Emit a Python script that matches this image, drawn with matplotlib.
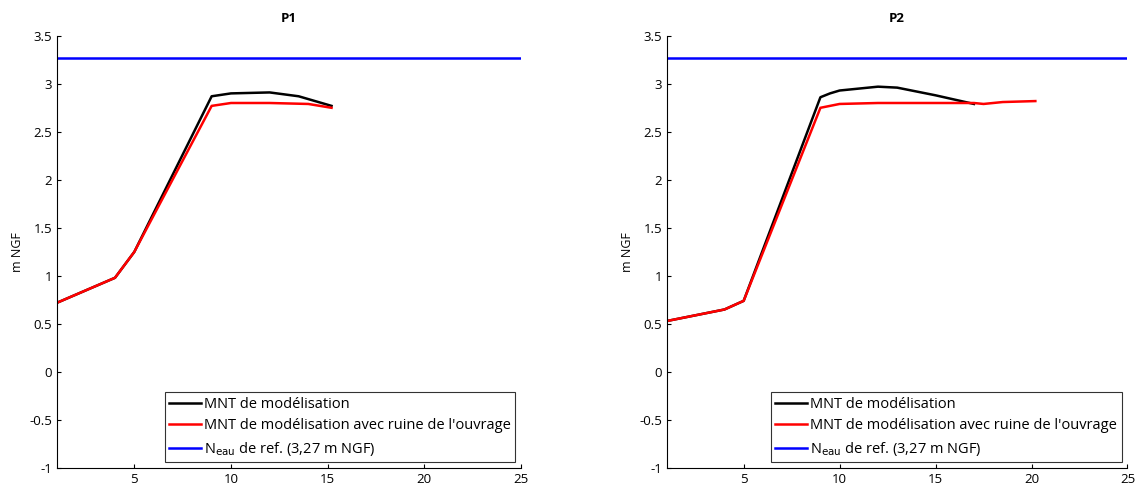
import matplotlib
matplotlib.use('Agg')
import matplotlib.pyplot as plt
from matplotlib.ticker import FuncFormatter

plt.rcParams['font.family'] = ['Open Sans', 'DejaVu Sans']

# P1 profile
p1_x_mnt = [1, 4, 5, 9, 10, 12, 13.5, 15.2]
p1_y_mnt = [0.72, 0.98, 1.25, 2.87, 2.90, 2.91, 2.87, 2.77]
p1_x_ruine = [1, 4, 5, 9, 10, 12, 14, 15.2]
p1_y_ruine = [0.72, 0.98, 1.25, 2.77, 2.80, 2.80, 2.79, 2.75]

# P2 profile
p2_x_mnt = [1, 2, 3, 4, 5, 9, 9.5, 10, 12, 13, 15, 17]
p2_y_mnt = [0.53, 0.57, 0.61, 0.65, 0.74, 2.86, 2.90, 2.93, 2.97, 2.96, 2.88, 2.79]
p2_x_ruine = [1, 2, 3, 4, 5, 9, 10, 12, 17, 17.5, 18.5, 20.2]
p2_y_ruine = [0.53, 0.57, 0.61, 0.65, 0.74, 2.75, 2.79, 2.80, 2.80, 2.79, 2.81, 2.82]

n_eau = 3.27
x_range = [1, 25]

labels = ['MNT de modélisation',
          "MNT de modélisation avec ruine de l'ouvrage",
          r'N$_{\mathrm{eau}}$ de ref. (3,27 m NGF)']

profiles = [
    ('P1', p1_x_mnt, p1_y_mnt, p1_x_ruine, p1_y_ruine, [0.05, 0.045, 0.407, 0.882]),
    ('P2', p2_x_mnt, p2_y_mnt, p2_x_ruine, p2_y_ruine, [0.585, 0.045, 0.404, 0.882]),
]

fig = plt.figure(figsize=(11.4, 4.9), dpi=100)

for title, xm, ym, xr, yr, pos in profiles:
    ax = fig.add_axes(pos)
    ax.plot(xm, ym, color='black', linewidth=1.8, label=labels[0])
    ax.plot(xr, yr, color='red', linewidth=1.8, label=labels[1])
    ax.plot(x_range, [n_eau, n_eau], color='blue', linewidth=1.8, label=labels[2])

    ax.set_xlim(1, 25)
    ax.set_ylim(-1, 3.5)
    ax.set_xticks([5, 10, 15, 20, 25])
    ax.set_yticks([-1, -0.5, 0, 0.5, 1, 1.5, 2, 2.5, 3, 3.5])
    ax.yaxis.set_major_formatter(FuncFormatter(lambda v, p: '%g' % v))
    ax.tick_params(direction='in', length=3, labelsize=9.5)

    ax.spines['top'].set_visible(False)
    ax.spines['right'].set_visible(False)

    ax.set_title(title, fontsize=9.5, fontweight='bold', pad=10)
    ax.set_ylabel('m NGF', fontsize=9)

    leg = ax.legend(loc='lower right', fontsize=10.5, frameon=True, fancybox=False,
                    edgecolor='black', handlelength=2.2, borderaxespad=0.4,
                    borderpad=0.3, labelspacing=0.45, handletextpad=0.2)
    leg.get_frame().set_linewidth(0.8)

fig.savefig('out.png', dpi=100)
